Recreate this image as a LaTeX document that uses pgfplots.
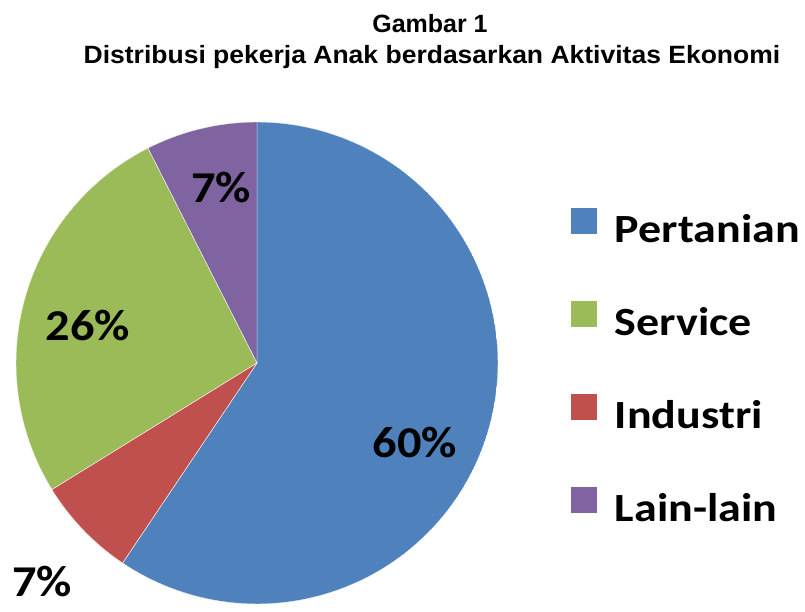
\documentclass[border=0pt]{standalone}
\usepackage{pgfplots}
\pgfplotsset{compat=1.18}
\usepgfplotslibrary{polar}
\usepackage{fontspec}
\setmainfont{Liberation Sans}
\newfontfamily\titlewide[FakeStretch=1.06]{Liberation Sans}
\newfontfamily\calibri[FakeStretch=1.1]{Carlito}
\newfontfamily\calibrileg[FakeStretch=1.15]{Carlito}

\definecolor{pieblue}{HTML}{4F81BD}
\definecolor{piered}{HTML}{C0504D}
\definecolor{piegreen}{HTML}{9BBB59}
\definecolor{piepurple}{HTML}{8064A2}

\begin{document}
\begin{tikzpicture}
\useasboundingbox (0,0) rectangle (805pt,612pt);

\begin{polaraxis}[
    hide axis,
    scale only axis,
    width=482pt, height=482pt,
    at={(257pt,249pt)}, anchor=center,
    xmin=0, xmax=360, ymin=0, ymax=1,
    legend cell align=left,
    legend style={
        at={(axis description cs:1.151,0.821)}, anchor=north west,
        draw=none, fill=none, inner sep=0pt,
        font=\calibrileg\bfseries\fontsize{40}{48}\selectfont,
        nodes={inner sep=0pt, text height=30pt, text depth=10pt},
        row sep=49pt,
        /tikz/every odd column/.append style={column sep=18pt},
    },
    legend image code/.code={\fill[#1, draw=none] (0pt,-2pt) rectangle (26pt,24pt);},
]
% slices: start and end angle (degrees, counter-clockwise from 3 o'clock)
% Pertanian 60%, Service 26%, Industri 7%, Lain-lain 7%
\addplot[fill=pieblue, draw=white, line width=0.4pt, domain=-123.9:90, samples=120] {1} -- (axis cs:0,0) -- cycle;
\addlegendentry{Pertanian}
\addplot[fill=piegreen, draw=white, line width=0.4pt, domain=116.9:211.7, samples=60] {1} -- (axis cs:0,0) -- cycle;
\addlegendentry{Service}
\addplot[fill=piered, draw=white, line width=0.4pt, domain=211.7:236.1, samples=20] {1} -- (axis cs:0,0) -- cycle;
\addlegendentry{Industri}
\addplot[fill=piepurple, draw=white, line width=0.4pt, domain=90:116.9, samples=20] {1} -- (axis cs:0,0) -- cycle;
\addlegendentry{Lain-lain}
\end{polaraxis}

% percentage labels
\begin{scope}[every node/.style={font=\calibri\bfseries\fontsize{44}{50}\selectfont, inner sep=0pt}]
\node at (415pt,169pt) {60\%};
\node at (88pt,286pt) {26\%};
\node at (221pt,424pt) {7\%};
\node at (42pt,30pt) {7\%};
\end{scope}

% title
\node[font=\bfseries\fontsize{25}{30}\selectfont, anchor=base] at (430pt,579pt) {Gambar 1};
\node[font=\titlewide\bfseries\fontsize{25}{30}\selectfont, anchor=base] at (432pt,548pt) {Distribusi pekerja Anak berdasarkan Aktivitas Ekonomi};
\end{tikzpicture}
\end{document}
